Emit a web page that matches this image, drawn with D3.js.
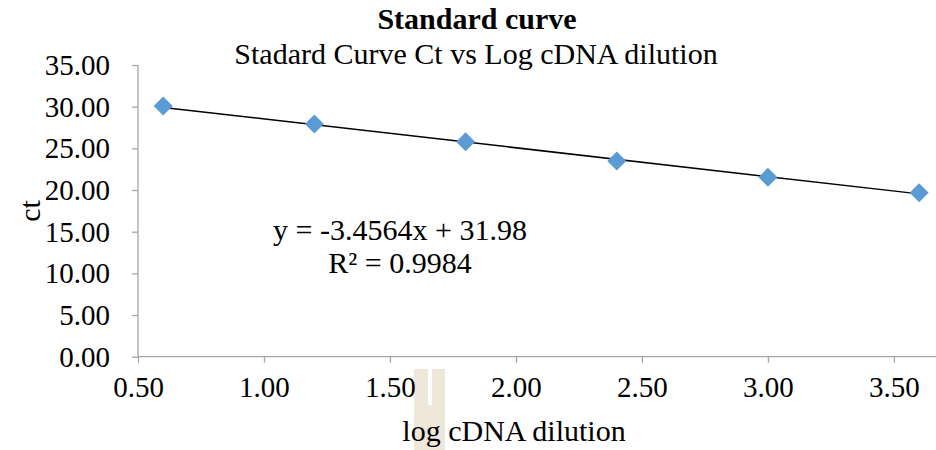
<!DOCTYPE html>
<html><head><meta charset="utf-8">
<script src="https://cdn.jsdelivr.net/npm/d3@7"></script>
<style>body{margin:0;background:#fff}svg{display:block}text{font-family:"Liberation Serif","Times New Roman",serif;fill:#000}</style>
</head><body><svg id="c" width="936" height="450"></svg>
<script>
const xValues = [0.6, 1.2, 1.8, 2.4, 3.0, 3.6];
const ctValues = [30.08, 27.92, 25.80, 23.48, 21.53, 19.68];
const xTicks = [0.5, 1.0, 1.5, 2.0, 2.5, 3.0, 3.5];
const yTicks = [0, 5, 10, 15, 20, 25, 30, 35];
const slope = -3.4564, intercept = 31.98;
const titleText = "Standard curve";
const subtitleText = "Stadard Curve Ct vs Log cDNA dilution";
const eqText = "y = -3.4564x + 31.98";
const r2Text = "R² = 0.9984";

const FS = 30;
const svg = d3.select("#c");
const x = d3.scaleLinear().domain([0.5, 3.667]).range([138, 936]);
const y = d3.scaleLinear().domain([0, 35]).range([356.7, 65]);

// smudge artifact
svg.append("rect").attr("x",414).attr("y",369).attr("width",31).attr("height",81).attr("fill","#EFE7DA");
svg.append("rect").attr("x",428).attr("y",369).attr("width",4).attr("height",36).attr("fill","#fff");

const gx = svg.append("g").attr("transform","translate(0,356.7)")
  .call(d3.axisBottom(x).tickValues(xTicks).tickFormat(d3.format(".2f")).tickSize(6).tickPadding(6));
const gy = svg.append("g").attr("transform","translate(138,0)")
  .call(d3.axisLeft(y).tickValues(yTicks).tickFormat(d3.format(".2f")).tickSize(6).tickPadding(22));
[gx, gy].forEach(g => {
  g.select(".domain").attr("stroke","#A6A6A6").attr("stroke-width",1.3);
  g.selectAll(".tick line").attr("stroke","#A6A6A6").attr("stroke-width",1.3);
  g.selectAll(".tick text").attr("font-family","Liberation Serif").attr("font-size",29).attr("fill","#000");
});
gx.select(".domain").attr("d","M138,0H936");
gy.select(".domain").attr("d","M0,356.7V65");
gy.selectAll(".tick text").attr("dy","0.33em").attr("x",-28);
gx.selectAll(".tick text").attr("dy",0).attr("y",40);

// trendline
svg.append("line")
  .attr("x1", x(xValues[0])).attr("y1", y(slope*xValues[0]+intercept))
  .attr("x2", x(xValues[xValues.length-1])).attr("y2", y(slope*xValues[xValues.length-1]+intercept))
  .attr("stroke","#000").attr("stroke-width",1.5);

// diamonds
const sym = d3.symbol().type(d3.symbolSquare).size(180);
svg.selectAll(".pt").data(xValues).enter().append("path")
  .attr("d", sym)
  .attr("transform",(d,i)=>`translate(${x(d)},${y(ctValues[i])}) rotate(45)`)
  .attr("fill","#5B9BD5");

svg.append("text").attr("x",477).attr("y",29).attr("text-anchor","middle").attr("font-size",FS).attr("font-weight","bold").text(titleText);
svg.append("text").attr("x",476).attr("y",64).attr("text-anchor","middle").attr("font-size",FS).text(subtitleText);
svg.append("text").attr("x",514).attr("y",441).attr("text-anchor","middle").attr("font-size",FS).text("log cDNA dilution");
svg.append("text").attr("transform","translate(40,211) rotate(-90)").attr("text-anchor","middle").attr("font-size",FS).text("ct");
svg.append("text").attr("x",400).attr("y",240).attr("text-anchor","middle").attr("font-size",FS).text(eqText);
svg.append("text").attr("x",400).attr("y",273).attr("text-anchor","middle").attr("font-size",FS).text(r2Text);
</script></body></html>
